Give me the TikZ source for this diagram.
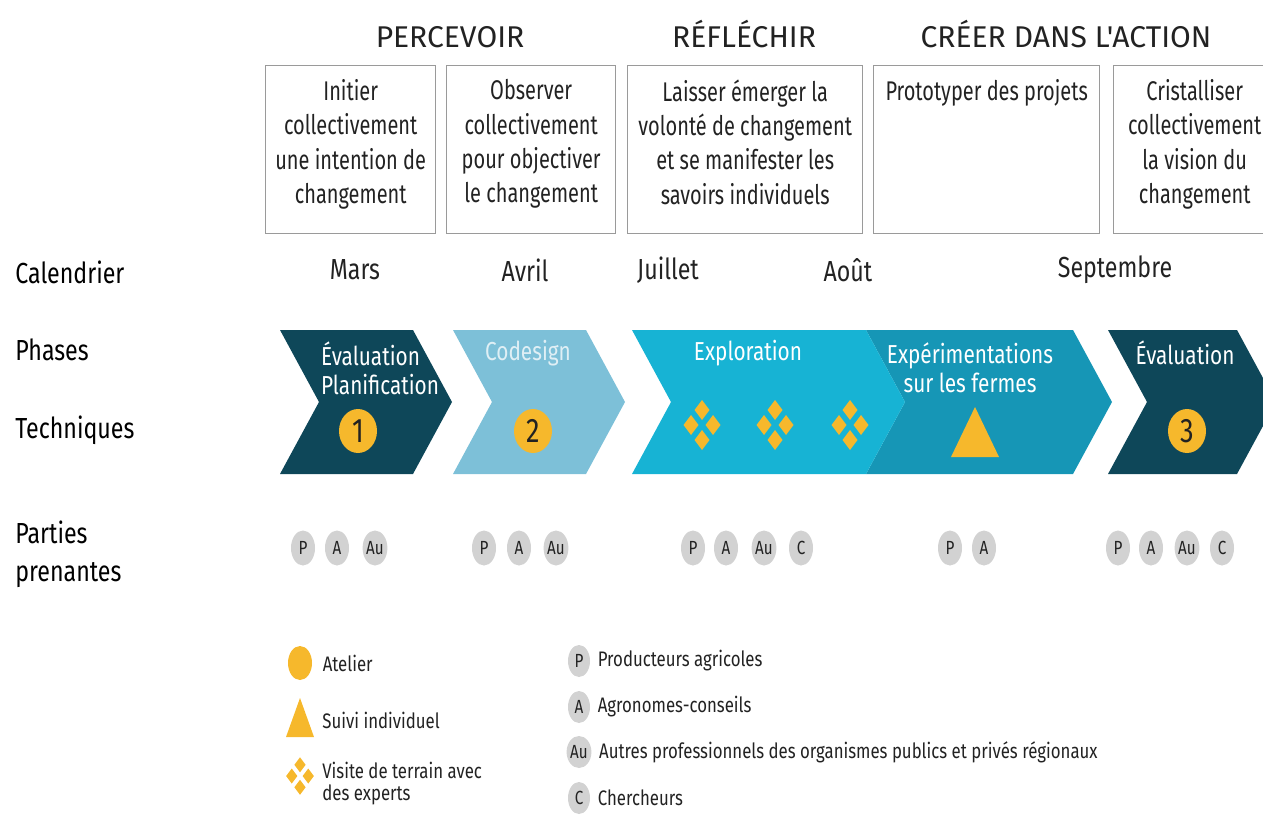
\documentclass[tikz,border=0pt]{standalone}
\usepackage{fontspec}
\setmainfont{Fira Sans}[FakeStretch=0.8]
\newfontfamily\headfont{Fira Sans}
\newfontfamily\narrowfont{Fira Sans}[FakeStretch=0.74]
\usetikzlibrary{shapes.geometric, positioning}

\definecolor{darkteal}{HTML}{0E4759}
\definecolor{lightblue}{HTML}{7DC0D8}
\definecolor{cyanblue}{HTML}{17B3D4}
\definecolor{midblue}{HTML}{1696B6}
\definecolor{ochre}{HTML}{F6B82C}
\definecolor{pgrey}{HTML}{D2D2D2}
\definecolor{boxgrey}{HTML}{9A9A9A}
\definecolor{inktext}{HTML}{222222}

\begin{document}
\begin{tikzpicture}[
    x=0.5pt, y=-0.5pt,
    head/.style={anchor=base, font=\headfont\fontsize{15}{18}\selectfont, text=inktext},
    stagebox/.style={draw=boxgrey, line width=0.7pt, anchor=north west, minimum height=84pt},
    stagetxt/.style={anchor=north, align=center, inner sep=0pt, font=\narrowfont\fontsize{13.5}{17.2}\selectfont, text=inktext},
    rowlbl/.style={anchor=west, align=left, inner sep=0pt, font=\fontsize{14.5}{19}\selectfont, text=black},
    month/.style={font=\fontsize{14.5}{16}\selectfont, text=inktext},
    phase/.style={font=\fontsize{13}{14.5}\selectfont, text=white, align=center},
    atelier/.style={ellipse, fill=ochre, minimum width=19pt, minimum height=22pt, inner sep=0pt, font=\fontsize{17}{17}\selectfont, text=inktext},
    partie/.style={ellipse, fill=pgrey, minimum width=12pt, minimum height=17.5pt, inner sep=0pt, font=\fontsize{9.5}{9.5}\selectfont, text=inktext},
    legtxt/.style={anchor=west, align=left, inner sep=0pt, font=\fontsize{10.5}{11}\selectfont, text=inktext},
    visite/.pic={
        \foreach \dx/\dy in {0/-15, -11/0, 11/0, 0/15}
            \fill[ochre] (\dx,\dy-10) -- (\dx+7.5,\dy) -- (\dx,\dy+10) -- (\dx-7.5,\dy) -- cycle;
    }
]
    \useasboundingbox (0,0) rectangle (1263,835);

    % headings
    \node[head] (percevoir) at (450,47) {PERCEVOIR};
    \node[head] (reflechir) at (744,47) {RÉFLÉCHIR};
    \node[head] (creer) at (1066,47) {CRÉER DANS L'ACTION};

    % stage boxes
    \node[stagebox, minimum width=85pt] (b1) at (265,65) {};
    \node[stagebox, minimum width=84.5pt] (b2) at (446,65) {};
    \node[stagebox, minimum width=117.5pt] (b3) at (627,65) {};
    \node[stagebox, minimum width=113pt] (b4) at (873,65) {};
    \node[stagebox, minimum width=81pt] (b5) at (1113,65) {};
    \node[stagetxt] (t1) at ([yshift=-7pt]b1.north) {Initier\\collectivement\\une intention de\\changement};
    \node[stagetxt] (t2) at ([yshift=-7pt]b2.north) {Observer\\collectivement\\pour objectiver\\le changement};
    \node[stagetxt] (t3) at ([yshift=-7pt]b3.north) {Laisser émerger la\\volonté de changement\\et se manifester les\\savoirs individuels};
    \node[stagetxt] (t4) at ([yshift=-7pt]b4.north) {Prototyper des projets};
    \node[stagetxt] (t5) at ([yshift=-7pt]b5.north) {Cristalliser\\collectivement\\la vision du\\changement};

    % row labels
    \node[rowlbl] (calendrier) at (15,272) {Calendrier};
    \node[rowlbl] (phases) at (15,350) {Phases};
    \node[rowlbl] (techniques) at (15,430) {Techniques};
    \node[rowlbl] (parties) at (15,554) {Parties\\prenantes};

    % calendar
    \node[month] (mars) at (355,270) {Mars};
    \node[month] (avril) at (525,270) {Avril};
    \node[month] (juillet) at (668,270) {Juillet};
    \node[month] (aout) at (848,270) {Août};
    \node[month] (septembre) at (1115,270) {Septembre};

    % chevrons
    \fill[darkteal] (280,330) -- (413,330) -- (452,402) -- (413,474) -- (280,474) -- (319,402) -- cycle;
    \fill[lightblue] (453,330) -- (586,330) -- (625,402) -- (586,474) -- (453,474) -- (492,402) -- cycle;
    \fill[midblue] (866,330) -- (1073,330) -- (1112,402) -- (1073,474) -- (866,474) -- (905,402) -- cycle;
    \fill[cyanblue] (632,330) -- (866,330) -- (905,402) -- (866,474) -- (632,474) -- (671,402) -- cycle;
    \fill[darkteal] (1108,330) -- (1237,330) -- (1276,402) -- (1237,474) -- (1108,474) -- (1147,402) -- cycle;

    \node[phase, align=left, anchor=west] (ph1) at (314,368) {Évaluation\\Planification};
    \node[phase, text=lightblue!25!white] (ph2) at (528,353) {Codesign};
    \node[phase] (ph3) at (748,353) {Exploration};
    \node[phase] (ph4) at (970,368) {Expérimentations\\sur les fermes};
    \node[phase] (ph5) at (1185,353) {Évaluation};

    % techniques
    \node[atelier] (at1) at (358,431) {1};
    \node[atelier] (at2) at (533,431) {2};
    \node[atelier] (at3) at (1187,431) {3};
    \pic at (702,425) {visite};
    \pic at (775,425) {visite};
    \pic at (850,425) {visite};
    \fill[ochre] (975,407) -- (999,457) -- (951,457) -- cycle;

    % parties prenantes
    \foreach \x/\l/\n in {303/P/a, 337/A/b, 375/Au/c}
        \node[partie] (g1\n) at (\x,548) {\l};
    \foreach \x/\l/\n in {484/P/a, 519/A/b, 556/Au/c}
        \node[partie] (g2\n) at (\x,548) {\l};
    \foreach \x/\l/\n in {693/P/a, 726/A/b, 764/Au/c, 801/C/d}
        \node[partie] (g3\n) at (\x,548) {\l};
    \foreach \x/\l/\n in {950/P/a, 984/A/b}
        \node[partie] (g4\n) at (\x,548) {\l};
    \foreach \x/\l/\n in {1118/P/a, 1151/A/b, 1187/Au/c, 1222/C/d}
        \node[partie] (g5\n) at (\x,548) {\l};

    % legend
    \node[atelier, minimum width=12pt, minimum height=17pt] (legatelier) at (300,663) {};
    \node[legtxt, right=5pt of legatelier] (txtatelier) {Atelier};
    \fill[ochre] (300,698) -- (314,737) -- (286,737) -- cycle;
    \node[legtxt] (txtsuivi) at (322,720) {Suivi individuel};
    \pic[scale=0.75] at (300,776) {visite};
    \node[legtxt] (txtvisite) at (322,784) {Visite de terrain avec\\des experts};

    \node[partie, minimum width=11pt, minimum height=16pt] (legP) at (579,661) {P};
    \node[partie, minimum width=11pt, minimum height=16pt] (legA) at (579,707) {A};
    \node[partie, minimum width=11pt, minimum height=16pt] (legAu) at (579,752) {Au};
    \node[partie, minimum width=11pt, minimum height=16pt] (legC) at (579,798) {C};
    \node[legtxt, right=3.5pt of legP] (txtP) {Producteurs agricoles};
    \node[legtxt, right=3.5pt of legA] (txtA) {Agronomes-conseils};
    \node[legtxt, right=3.5pt of legAu] (txtAu) {Autres professionnels des organismes publics et privés régionaux};
    \node[legtxt, right=3.5pt of legC] (txtC) {Chercheurs};
\end{tikzpicture}
\end{document}
